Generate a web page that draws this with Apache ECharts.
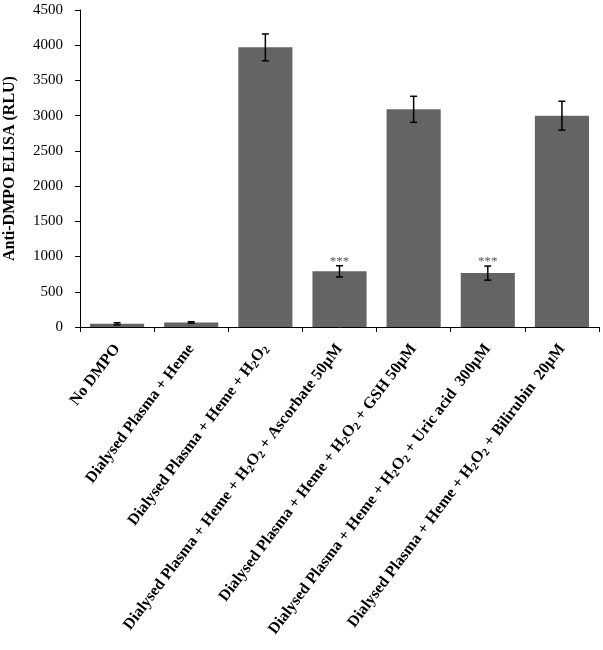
<!DOCTYPE html>
<html><head><meta charset="utf-8">
<script src="https://cdn.jsdelivr.net/npm/echarts@6/dist/echarts.min.js"></script>
<style>html,body{margin:0;padding:0;background:#fff}#c{width:603px;height:650px}</style>
</head><body><div id="c"></div>
<script>
var categories = [
  "No DMPO",
  "Dialysed Plasma + Heme",
  "Dialysed Plasma + Heme + H2O2",
  "Dialysed Plasma + Heme + H2O2 + Ascorbate 50\u00b5M",
  "Dialysed Plasma + Heme + H2O2 + GSH 50\u00b5M",
  "Dialysed Plasma + Heme + H2O2 + Uric acid  300\u00b5M",
  "Dialysed Plasma + Heme + H2O2 + Bilirubin  20\u00b5M"
];
var values = [45, 65, 3970, 790, 3090, 765, 3000];
var errors = [15, 10, 190, 80, 185, 100, 205];
var significance = ["", "", "", "***", "", "***", ""];
var yTicks = [0, 500, 1000, 1500, 2000, 2500, 3000, 3500, 4000, 4500];

var serif = "'Liberation Serif', 'Times New Roman', serif";
var chart = echarts.init(document.getElementById('c'));

function fmt(label) {
  var parts = label.split('H2O2');
  var out = '';
  for (var i = 0; i < parts.length; i++) {
    if (parts[i]) out += '{b|' + parts[i] + '}';
    if (i < parts.length - 1) out += '{b|H}{s|2}{b|O}{s|2}';
  }
  return out;
}

var errData = values.map(function (v, i) { return [i, v - errors[i], v + errors[i], significance[i]]; });

chart.setOption({
  animation: false,
  grid: { left: 80, right: 4, top: 10, bottom: 323, containLabel: false, outerBoundsMode: 'none' },
  xAxis: {
    type: 'category',
    data: categories,
    boundaryGap: true,
    axisLine: { lineStyle: { color: '#000', width: 1 } },
    axisTick: { show: true, alignWithLabel: false, length: 5, lineStyle: { color: '#000' } },
    axisLabel: {
      interval: 0, rotate: 53, margin: 19,
      formatter: fmt,
      rich: {
        b: { fontFamily: serif, fontSize: 16, fontWeight: 'bold', color: '#000', lineHeight: 18 },
        s: { fontFamily: serif, fontSize: 11, fontWeight: 'bold', color: '#000', lineHeight: 18, verticalAlign: 'bottom', padding: [6, 0, 0, 0] }
      }
    }
  },
  yAxis: {
    type: 'value', min: 0, max: 4500, interval: 500,
    name: 'Anti-DMPO ELISA (RLU)', nameLocation: 'middle', nameGap: 62,
    nameTextStyle: { fontFamily: serif, fontSize: 16, fontWeight: 'bold', color: '#000' },
    axisLine: { show: true, lineStyle: { color: '#000', width: 1 } },
    axisTick: { show: true, length: 5, lineStyle: { color: '#000' } },
    splitLine: { show: false },
    axisLabel: {
      fontFamily: serif, fontSize: 15, color: '#000', margin: 17,
      formatter: function (v) { return yTicks.indexOf(v) >= 0 ? String(v) : ''; }
    }
  },
  series: [
    {
      type: 'bar', data: values, barCategoryGap: '27%',
      itemStyle: { color: '#646464' }
    },
    {
      type: 'custom', data: errData, z: 10,
      encode: { x: 0, y: [1, 2] },
      renderItem: function (params, api) {
        var x = api.value(0);
        var lo = api.coord([x, api.value(1)]);
        var hi = api.coord([x, api.value(2)]);
        var cx = lo[0], hw = 3.5;
        var children = [
          { type: 'line', shape: { x1: cx, y1: lo[1], x2: cx, y2: hi[1] }, style: { stroke: '#000', lineWidth: 1.5 } },
          { type: 'line', shape: { x1: cx - hw, y1: lo[1], x2: cx + hw, y2: lo[1] }, style: { stroke: '#000', lineWidth: 1.5 } },
          { type: 'line', shape: { x1: cx - hw, y1: hi[1], x2: cx + hw, y2: hi[1] }, style: { stroke: '#000', lineWidth: 1.5 } }
        ];
        var sig = significance[params.dataIndex];
        if (sig) {
          children.push({ type: 'text', x: cx, y: hi[1] + 2, style: { text: sig, fill: '#555', font: '13px ' + serif, align: 'center', verticalAlign: 'bottom' } });
        }
        return { type: 'group', children: children };
      }
    }
  ]
});
</script></body></html>
